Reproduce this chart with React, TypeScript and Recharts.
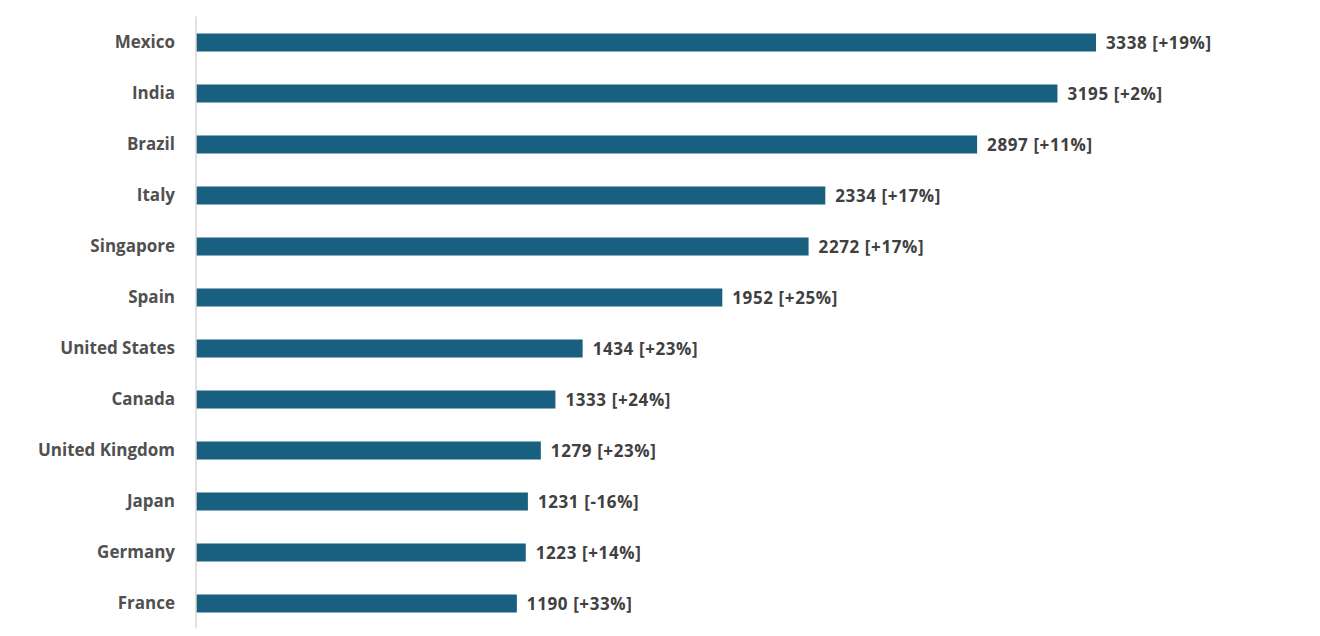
import React from 'react';
import { BarChart, Bar, XAxis, YAxis, LabelList } from 'recharts';

const countries = ['Mexico', 'India', 'Brazil', 'Italy', 'Singapore', 'Spain', 'United States', 'Canada', 'United Kingdom', 'Japan', 'Germany', 'France'];
const values = [3338, 3195, 2897, 2334, 2272, 1952, 1434, 1333, 1279, 1231, 1223, 1190];
const changes = ['+19%', '+2%', '+11%', '+17%', '+17%', '+25%', '+23%', '+24%', '+23%', '-16%', '+14%', '+33%'];

const data = countries.map((c, i) => ({ country: c, value: values[i], label: `${values[i]} [${changes[i]}]` }));

const FONT = '"Open Sans", "Noto Sans", sans-serif';

export default function App() {
  return (
    <div style={{ position: 'absolute', left: 0, top: 0, width: 1320, height: 636, background: '#fff' }}>
      <BarChart
        width={1320}
        height={636}
        data={data}
        layout="vertical"
        margin={{ top: 16.5, right: 224, bottom: 7.5, left: 0 }}
        barCategoryGap={0}
      >
        <XAxis type="number" domain={[0, 3338]} hide />
        <YAxis
          type="category"
          dataKey="country"
          width={196}
          axisLine={{ stroke: '#d9d9d9', strokeWidth: 1.5 }}
          tickLine={false}
          tickSize={6}
          tickMargin={15}
          tick={{ fill: '#505050', fontSize: 17, fontWeight: 700, fontFamily: FONT }}
        />
        <Bar dataKey="value" fill="#195f80" barSize={18} isAnimationActive={false}>
          <LabelList
            dataKey="label"
            position="right"
            offset={10}
            style={{ fill: '#404040', fontSize: 17, fontWeight: 700, fontFamily: FONT, letterSpacing: 0.6 }}
          />
        </Bar>
      </BarChart>
    </div>
  );
}
